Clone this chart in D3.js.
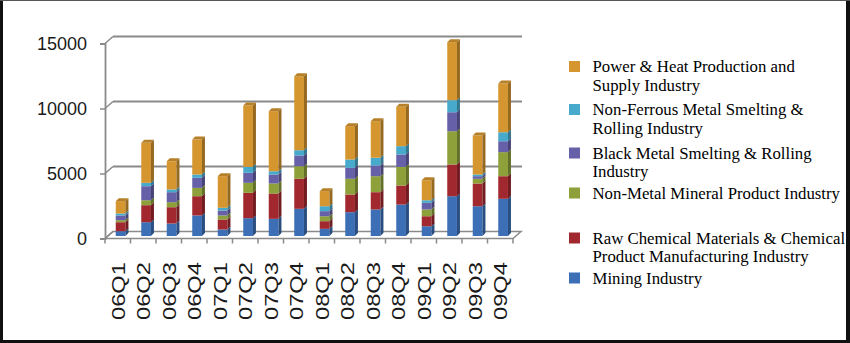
<!DOCTYPE html>
<html><head><meta charset="utf-8">
<script src="https://cdn.jsdelivr.net/npm/d3@7"></script>
<style>html,body{margin:0;padding:0;background:#fff;}svg{display:block;}</style>
</head><body>
<svg id="chart" width="850" height="343"></svg>
<script>
const categories = ["06Q1","06Q2","06Q3","06Q4","07Q1","07Q2","07Q3","07Q4","08Q1","08Q2","08Q3","08Q4","09Q1","09Q2","09Q3","09Q4"];
const mining      = [370,1060,960,1580,500,1370,1320,2090,550,1830,2040,2420,750,3060,2290,2860];
const rawChemical = [690,1310,1255,1480,770,1950,1950,2310,590,1360,1330,1460,770,2440,1750,1740];
const nonMetal    = [155,380,385,640,310,770,770,970,380,1210,1230,1440,520,2560,360,1850];
const blackMetal  = [365,1080,770,780,380,770,690,820,390,850,820,950,510,1460,200,840];
const nonFerrous  = [150,260,210,250,210,460,250,410,380,630,600,640,200,930,130,690];
const powerHeat   = [950,3080,2170,2690,2430,4720,4620,5690,1160,2570,2810,3030,1540,4460,3000,3750];
const yTicks = [0,5000,10000,15000];

const seriesNames = ["Mining Industry",
  "Raw Chemical Materials & Chemical|Product Manufacturing Industry",
  "Non-Metal Mineral Product Industry",
  "Black Metal Smelting & Rolling|Industry",
  "Non-Ferrous Metal Smelting &|Rolling Industry",
  "Power & Heat Production and|Supply Industry"];
const seriesValues = [mining, rawChemical, nonMetal, blackMetal, nonFerrous, powerHeat];
const colors = ["#3D6FB7","#A2282F","#8DA03A","#6560A8","#47A9CB","#D6962F"];

const svg = d3.select("#chart");
svg.append("rect").attr("x",0).attr("y",0).attr("width",850).attr("height",343).attr("fill","#fff");

const x = d3.scaleBand().domain(categories).range([105,513]).padding(0);
const y = d3.scaleLinear().domain([0,15000]).range([238.5,43.5]);
const DX = 8, DY = 7;
const gridColor = "#8a8a8a";

// floor
svg.append("path")
  .attr("d", `M105,${y(0)} L513,${y(0)} L${513+DX},${y(0)-DY} L${105+DX},${y(0)-DY} Z`)
  .attr("fill","#fff").attr("stroke",gridColor).attr("stroke-width",1.5);

// gridlines on back wall
yTicks.forEach(t => {
  if (t>0) {
    svg.append("line").attr("x1",105+DX).attr("x2",513+DX+1)
      .attr("y1",y(t)-DY).attr("y2",y(t)-DY)
      .attr("stroke",gridColor).attr("stroke-width",1.8);
  }
  svg.append("line").attr("x1",105).attr("y1",y(t)).attr("x2",105+DX).attr("y2",y(t)-DY)
    .attr("stroke",gridColor).attr("stroke-width",1.5);
});

// y axis
const yAxis = d3.axisLeft(y).tickValues(yTicks).tickSize(5).tickPadding(13).tickFormat(d3.format("d"));
const gy = svg.append("g").attr("transform","translate(105,0)").call(yAxis);
gy.select(".domain").attr("stroke",gridColor).attr("stroke-width",1.8);
gy.selectAll(".tick line").attr("stroke",gridColor).attr("stroke-width",1.5);
gy.selectAll(".tick text").attr("font-family","Liberation Sans, Arial, sans-serif")
  .attr("font-size",18).attr("fill","#1a1a1a").attr("dy","0.35em");

// x axis
const xAxis = d3.axisBottom(x).tickSize(0).tickFormat("");
const gx = svg.append("g").attr("transform",`translate(0,${y(0)})`).call(xAxis);
gx.select(".domain").remove();
d3.range(categories.length+1).forEach(i => {
  const xx = 105 + i*x.step();
  svg.append("line").attr("x1",xx).attr("x2",xx).attr("y1",y(0)).attr("y2",y(0)+5)
    .attr("stroke",gridColor).attr("stroke-width",1.5);
});
categories.forEach(c => {
  const cx = x(c) + x.bandwidth()/2 + 1;
  svg.append("text").attr("transform",`translate(${cx+6},320) rotate(-90)`)
    .attr("font-family","Liberation Sans, Arial, sans-serif").attr("font-size",17.5)
    .attr("textLength",58).attr("lengthAdjust","spacingAndGlyphs")
    .attr("fill","#1a1a1a").text(c);
});

// bars
const stack = categories.map((c,i) => {
  let acc = 0;
  return seriesValues.map((s,k) => { const v0 = acc; acc += s[i]; return {c, k, v0, v1: acc}; });
});
const BW = 9.7, BDX = 3, BDY = 3, BOFF = 10.75, SHIFT = 2.5;
const shade = (col, f) => { const c = d3.rgb(col); return d3.rgb(c.r*f, c.g*f, c.b*f).formatHex(); };
const gb = svg.append("g");
stack.forEach(segs => {
  segs.forEach(s => {
    const x0 = x(s.c) + BOFF;
    const yb = y(s.v0) - SHIFT, yt = y(s.v1) - SHIFT;
    gb.append("rect").attr("x",x0).attr("y",yt).attr("width",BW).attr("height",Math.max(0,yb-yt))
      .attr("fill",colors[s.k]);
    gb.append("path").attr("d",`M${x0+BW},${yb} L${x0+BW},${yt} L${x0+BW+BDX},${yt-BDY} L${x0+BW+BDX},${yb-BDY} Z`)
      .attr("fill",shade(colors[s.k],0.7));
  });
  const top = segs[segs.length-1];
  const x0 = x(top.c) + BOFF, yt = y(top.v1) - SHIFT;
  gb.append("path").attr("d",`M${x0},${yt} L${x0+BW},${yt} L${x0+BW+BDX},${yt-BDY} L${x0+BDX},${yt-BDY} Z`)
    .attr("fill",shade(colors[top.k],0.85));
});

// legend
const legendItems = [
  {k:5, y:66.5}, {k:4, y:109.5}, {k:3, y:153}, {k:2, y:193}, {k:1, y:238}, {k:0, y:278}
];
legendItems.forEach(it => {
  svg.append("rect").attr("x",569).attr("y",it.y-5.5).attr("width",11).attr("height",11)
    .attr("fill",colors[it.k]);
  const lines = seriesNames[it.k].split("|");
  lines.forEach((ln,j) => {
    svg.append("text").attr("x",592.5).attr("y",it.y + j*18.5).attr("dy","0.35em")
      .attr("font-family","Liberation Serif, Times New Roman, serif").attr("font-size",16.8)
      .attr("fill","#000").text(ln);
  });
});

// border
svg.append("rect").attr("x",0).attr("y",0).attr("width",3).attr("height",343).attr("fill","#111");
svg.append("rect").attr("x",846).attr("y",0).attr("width",4).attr("height",343).attr("fill","#111");
svg.append("rect").attr("x",0).attr("y",340).attr("width",850).attr("height",3).attr("fill","#111");
svg.append("rect").attr("x",0).attr("y",0).attr("width",850).attr("height",1).attr("fill","#555");
</script>
</body></html>
